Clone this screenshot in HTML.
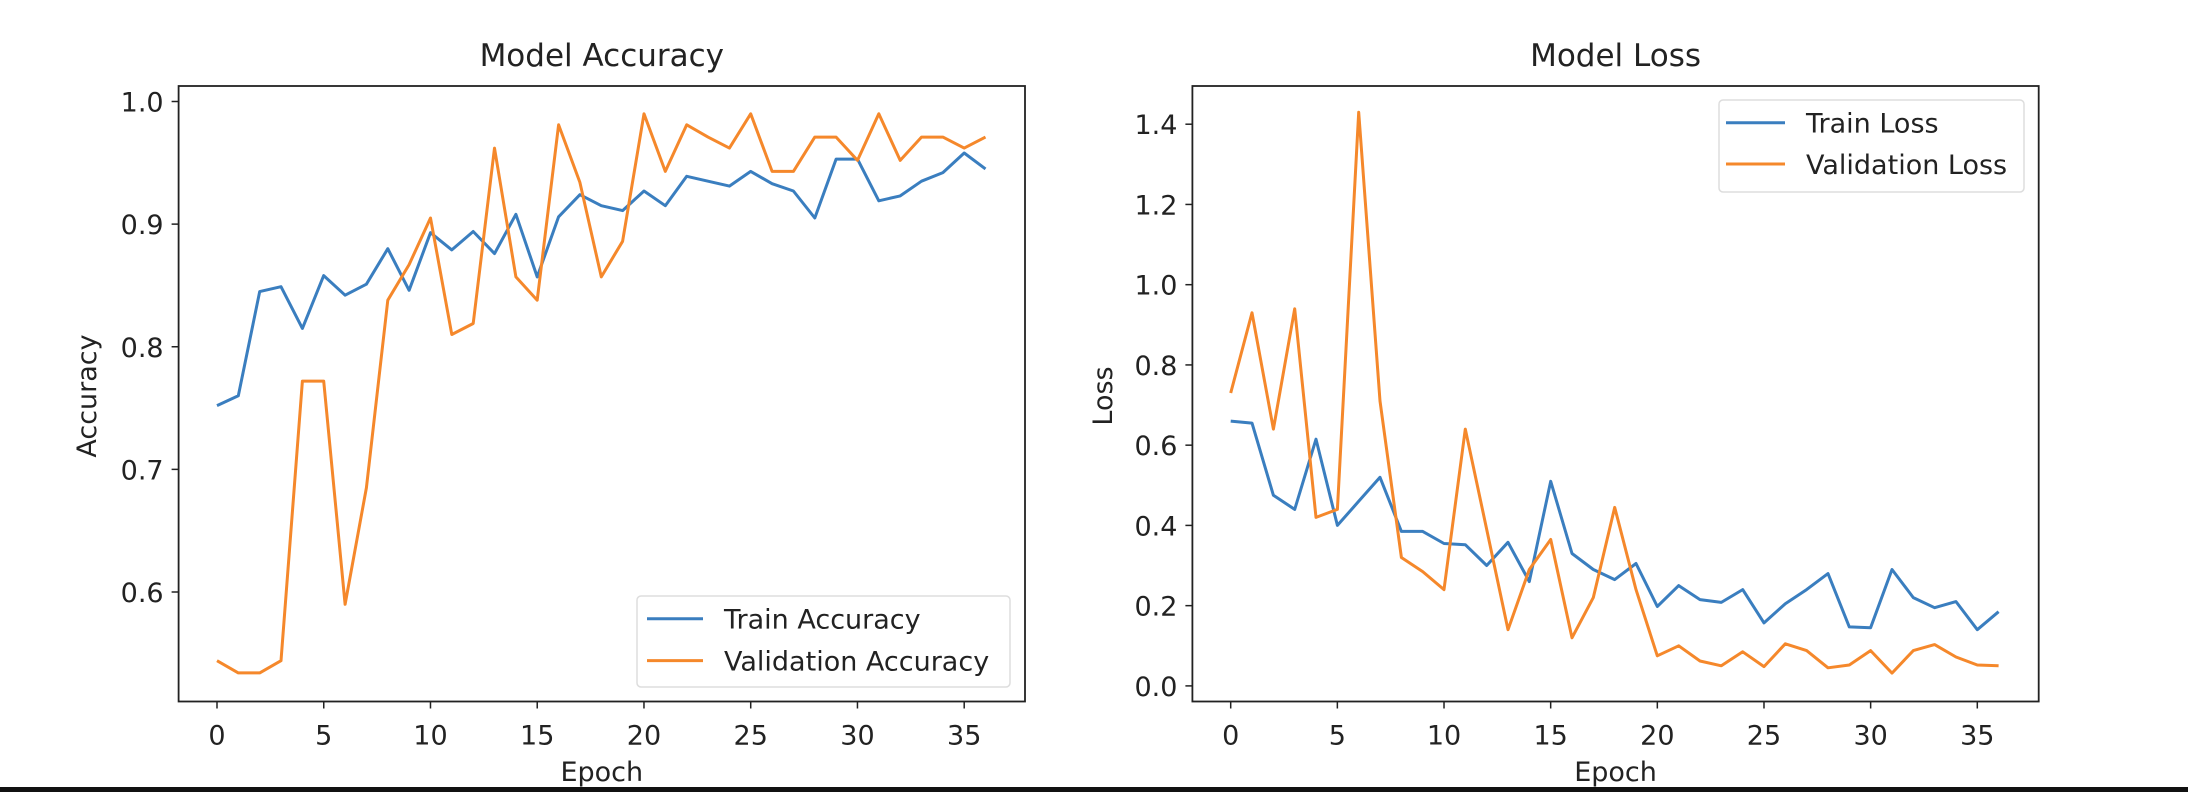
<!DOCTYPE html>
<html><head><meta charset="utf-8"><style>
html,body{margin:0;padding:0;background:#fff;}
svg{display:block;font-family:"DejaVu Sans","Liberation Sans",sans-serif;}
</style></head><body>
<svg id="fig" width="2188" height="792" viewBox="0 0 2188 792" xmlns="http://www.w3.org/2000/svg">
<rect x="0" y="0" width="2188" height="792" fill="#fff"/>
<rect x="0" y="787" width="2188" height="5" fill="#111"/>
</svg>
<script>
const epochs = [0,1,2,3,4,5,6,7,8,9,10,11,12,13,14,15,16,17,18,19,20,21,22,23,24,25,26,27,28,29,30,31,32,33,34,35,36];
const trainAcc = [.752,.760,.845,.849,.815,.858,.842,.851,.880,.846,.893,.879,.894,.876,.908,.857,.906,.924,.915,.911,.927,.915,.939,.935,.931,.943,.933,.927,.905,.953,.953,.919,.923,.935,.942,.958,.945];
const valAcc = [.544,.534,.534,.544,.772,.772,.590,.685,.838,.867,.905,.810,.819,.962,.857,.838,.981,.934,.857,.886,.990,.943,.981,.971,.962,.990,.943,.943,.971,.971,.952,.990,.952,.971,.971,.962,.971];
const trainLoss = [.66,.655,.475,.44,.615,.40,.46,.52,.385,.385,.355,.352,.30,.358,.26,.51,.33,.29,.265,.305,.198,.25,.215,.208,.24,.157,.205,.24,.28,.147,.145,.29,.22,.195,.21,.14,.185];
const valLoss = [.73,.93,.64,.94,.42,.44,1.43,.71,.32,.285,.24,.64,.39,.14,.29,.365,.12,.22,.445,.24,.075,.10,.062,.05,.085,.048,.105,.088,.045,.052,.088,.032,.088,.103,.072,.052,.05];
const xTicks = [0,5,10,15,20,25,30,35];
const accTicks = [0.6,0.7,0.8,0.9,1.0];
const lossTicks = [0.0,0.2,0.4,0.6,0.8,1.0,1.2,1.4];

const NS="http://www.w3.org/2000/svg";
const svg=document.getElementById('fig');
function mk(tag,attrs,parent){const e=document.createElementNS(NS,tag);for(const k in attrs)e.setAttribute(k,attrs[k]);(parent||svg).appendChild(e);return e;}

function panel(cfg){
  const g=mk('g',{});
  
  
  const X=v=>cfg.x0px+(v-0)*(cfg.x35px-cfg.x0px)/35;
  const Y=v=>cfg.yApx+(v-cfg.yA)*(cfg.yBpx-cfg.yApx)/(cfg.yB-cfg.yA);
  // ticks
  xTicks.forEach(t=>{
    mk('line',{x1:X(t),x2:X(t),y1:cfg.bottom,y2:cfg.bottom+7,stroke:'#222','stroke-width':1.5},g);
    const tx=mk('text',{x:X(t),y:cfg.bottom+43,'font-size':27,'text-anchor':'middle',fill:'#222'},g);
    tx.textContent=t;
    
    
  });
  cfg.yTicks.forEach(t=>{
    mk('line',{x1:cfg.left-7,x2:cfg.left,y1:Y(t),y2:Y(t),stroke:'#222','stroke-width':1.5},g);
    const tx=mk('text',{x:cfg.left-15,y:Y(t)+10,'font-size':27,'text-anchor':'end',fill:'#222'},g);
    tx.textContent=t.toFixed(1);
    
    
  });
  // clip
  const cid='clip'+cfg.name;
  const cp=mk('clipPath',{id:cid},g);
  mk('rect',{x:cfg.left,y:cfg.top,width:cfg.right-cfg.left,height:cfg.bottom-cfg.top},cp);
  cfg.series.forEach(s=>{
    const d=s.data.map((v,i)=>(i?'L':'M')+X(epochs[i]).toFixed(1)+','+Y(v).toFixed(1)).join('');
    const p=mk('path',{d:d,fill:'none',stroke:s.color,'stroke-width':3,'stroke-linejoin':'round','clip-path':'url(#'+cid+')'},g);
    
    
  });
  const frame=mk('rect',{x:cfg.left,y:cfg.top,width:cfg.right-cfg.left,height:cfg.bottom-cfg.top,fill:'none',stroke:'#222','stroke-width':1.8},g);
  
  
  const ti=mk('text',{x:(cfg.left+cfg.right)/2,y:66,'font-size':31,'text-anchor':'middle',fill:'#222'},g);
  ti.textContent=cfg.title;
  
  
  const xl=mk('text',{x:(cfg.left+cfg.right)/2,y:781,'font-size':27,'text-anchor':'middle',fill:'#222'},g);
  xl.textContent='Epoch';
  
  
  const yl=mk('text',{x:0,y:0,'font-size':27,'text-anchor':'middle',fill:'#222',transform:'translate('+cfg.ylx+',396) rotate(-90)'},g);
  yl.textContent=cfg.ylabel;
  
  
  // legend
  const L=cfg.legend;
  const lg=mk('g',{},g);
  
  
  mk('rect',{x:L.x,y:L.y,width:L.w,height:L.h,rx:4,fill:'#fff','fill-opacity':0.8,stroke:'#ddd','stroke-width':1.5},lg);
  cfg.series.forEach((s,i)=>{
    const ry=L.rows[i];
    mk('line',{x1:L.lx1,x2:L.lx2,y1:ry,y2:ry,stroke:s.color,'stroke-width':3},lg);
    const t=mk('text',{x:L.tx,y:ry+10,'font-size':27,fill:'#222'},lg);
    t.textContent=s.label;
    
    
  });
}

panel({name:'accuracy-chart',title:'Model Accuracy',ylabel:'Accuracy',ylx:96,
  left:178.6,right:1025,top:86,bottom:701.5,x0px:217,x35px:964.2,
  yA:0.6,yApx:592,yB:1.0,yBpx:101.5,yTicks:accTicks,
  series:[{id:'train-accuracy-line',label:'Train Accuracy',color:'#3a7ebf',data:trainAcc},
          {id:'validation-accuracy-line',label:'Validation Accuracy',color:'#f5882b',data:valAcc}],
  legend:{x:637,y:596,w:373,h:91,lx1:647,lx2:703,tx:724,rows:[618.7,660.6]}});

panel({name:'loss-chart',title:'Model Loss',ylabel:'Loss',ylx:1112,
  left:1192.4,right:2038.7,top:86,bottom:701.5,x0px:1230.7,x35px:1977.3,
  yA:0.0,yApx:685.9,yB:1.4,yBpx:124.2,yTicks:lossTicks,
  series:[{id:'train-loss-line',label:'Train Loss',color:'#3a7ebf',data:trainLoss},
          {id:'validation-loss-line',label:'Validation Loss',color:'#f5882b',data:valLoss}],
  legend:{x:1719,y:100,w:305,h:92,lx1:1726,lx2:1785,tx:1806,rows:[122.7,164]}});
</script>
</body></html>
